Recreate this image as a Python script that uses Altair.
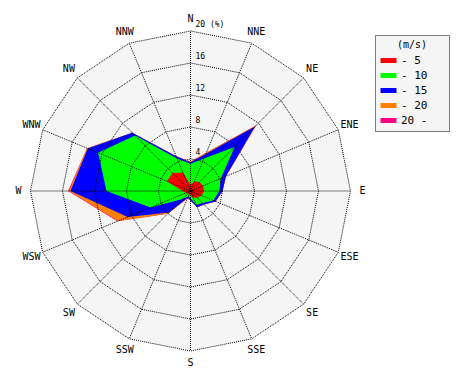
import altair as alt
import pandas as pd

# ---- data -------------------------------------------------------------
directions = ["N", "NNE", "NE", "ENE", "E", "ESE", "SE", "SSE",
              "S", "SSW", "SW", "WSW", "W", "WNW", "NW", "NNW"]
classes = ["- 5", "- 10", "- 15", "- 20", "20 -"]
colors = ["#ff0000", "#00ff00", "#0000ff", "#ff8000", "#ff0080"]

# frequency (%) of each speed class per direction
speed_0_5   = [0.8, 1.3, 1.6, 1.7, 1.7, 1.5, 1.2, 0.9, 0.5, 0.4, 0.5, 0.6, 1.0, 3.2, 3.2, 2.5]
speed_5_10  = [2.6, 3.1, 6.2, 2.4, 1.9, 1.6, 0.9, 1.0, 0.4, 0.3, 0.9, 4.8, 9.5, 9.3, 6.6, 1.9]
speed_10_15 = [0.2, 0.6, 3.6, 0.7, 0.4, 0.3, 0.3, 0.3, 0.3, 0.2, 2.4, 3.1, 4.5, 1.4, 0.5, 0.3]
speed_15_20 = [0.1, 0.2, 0.2, 0.0, 0.0, 0.0, 0.0, 0.0, 0.0, 0.1, 0.2, 1.3, 0.2, 0.1, 0.0, 0.0]
speed_20_up = [0.0, 0.0, 0.0, 0.0, 0.0, 0.0, 0.0, 0.0, 0.0, 0.0, 0.0, 0.1, 0.1, 0.0, 0.0, 0.0]

rings = [4, 8, 12, 16, 20]
ring_labels = ["4", "8", "12", "16", "20 (%)"]

series = [speed_0_5, speed_5_10, speed_10_15, speed_15_20, speed_20_up]

# ---- tables -----------------------------------------------------------
rows = []
for i, d in enumerate(directions):
    cum = 0.0
    for k, cls in enumerate(classes):
        cum += series[k][i]
        rows.append({"i": i, "dir": d, "cls": cls, "k": k, "r": round(cum, 3)})
rose = pd.DataFrame(rows)

grid = pd.DataFrame([{"i": i, "ring": r, "r": r} for r in rings for i in range(len(directions))])
spokes = pd.DataFrame({"i": list(range(len(directions))), "dir": directions})
ringtext = pd.DataFrame({"r": rings, "label": ring_labels})

FONT = "DejaVu Sans Mono"
xs = alt.Scale(domain=[-22.8125, 33.9375], nice=False, zero=False)
ys = alt.Scale(domain=[-22.625, 22.875], nice=False, zero=False)


def to_xy(ch, rfield="datum.r"):
    return ch.transform_calculate(
        th="datum.i * PI / 8"
    ).transform_calculate(
        x=f"{rfield} * sin(datum.th)", y=f"{rfield} * cos(datum.th)"
    )


X = alt.X("x:Q", scale=xs, axis=None)
Y = alt.Y("y:Q", scale=ys, axis=None)

# background disc (outer polygon)
bg = to_xy(alt.Chart(grid).transform_filter("datum.ring == 20")).mark_line(
    filled=True, color="#f5f5f5", interpolate="linear-closed"
).encode(x=X, y=Y, order="i:Q")

blank = "\u2800" * 2
color = alt.Color(
    "cls:N",
    scale=alt.Scale(domain=classes, range=colors),
    legend=alt.Legend(
        title="(m/s)", orient="none", legendX=367, legendY=27,
        titleAnchor="middle", titleFont=FONT, titleFontSize=10,
        titleFontWeight="normal", titleColor="black", titlePadding=5,
        labelFont=FONT, labelFontSize=11, labelColor="black",
        labelExpr=f"datum.label + '{blank}'",
        symbolType="M-1.6,-0.5H1.6V0.5H-1.6Z", symbolSize=100, symbolStrokeWidth=0,
        symbolOpacity=1, symbolOffset=3, rowPadding=3, labelOffset=7, padding=5,
        fillColor="#f5f5f5", strokeColor="black",
    ),
)

layers = []
for cls in reversed(classes):
    layers.append(
        to_xy(alt.Chart(rose).transform_filter(alt.datum.cls == cls)).mark_line(
            filled=True, interpolate="linear-closed", opacity=1
        ).encode(x=X, y=Y, color=color, order="i:Q")
    )

ring_lines = to_xy(alt.Chart(grid)).mark_line(
    interpolate="linear-closed", color="black", strokeWidth=1, strokeDash=[1, 1]
).encode(x=X, y=Y, detail="ring:N", order="i:Q")

spoke_lines = alt.Chart(spokes).transform_calculate(
    th="datum.i * PI / 8"
).transform_calculate(
    x0="0", y0="0", x2="20 * sin(datum.th)", y2="20 * cos(datum.th)"
).mark_rule(color="black", strokeWidth=1, strokeDash=[1, 1]).encode(
    x=alt.X("x0:Q", scale=xs, axis=None), y=alt.Y("y0:Q", scale=ys, axis=None),
    x2="x2:Q", y2="y2:Q"
)

dir_text = alt.Chart(spokes).transform_calculate(
    th="datum.i * PI / 8"
).transform_calculate(
    x="21.5 * sin(datum.th)", y="21.5 * cos(datum.th)"
).mark_text(font=FONT, fontSize=10, color="black", align="center", baseline="middle").encode(
    x=X, y=Y, text="dir:N"
)

ring_text = alt.Chart(ringtext).transform_calculate(
    x="0", y="datum.r"
).mark_text(font=FONT, fontSize=8, color="black", align="left", baseline="bottom",
            dx=5, dy=-2).encode(x=X, y=Y, text="label:N")

chart = alt.layer(
    bg, *layers, ring_lines, spoke_lines, dir_text, ring_text
).properties(
    width=454, height=364, autosize=alt.AutoSizeParams(type="none"), padding=0
).configure_view(stroke=None).configure_legend(strokeDash=[1, 1])

chart.save("out.html", embed_options={"renderer": "svg", "actions": False})
